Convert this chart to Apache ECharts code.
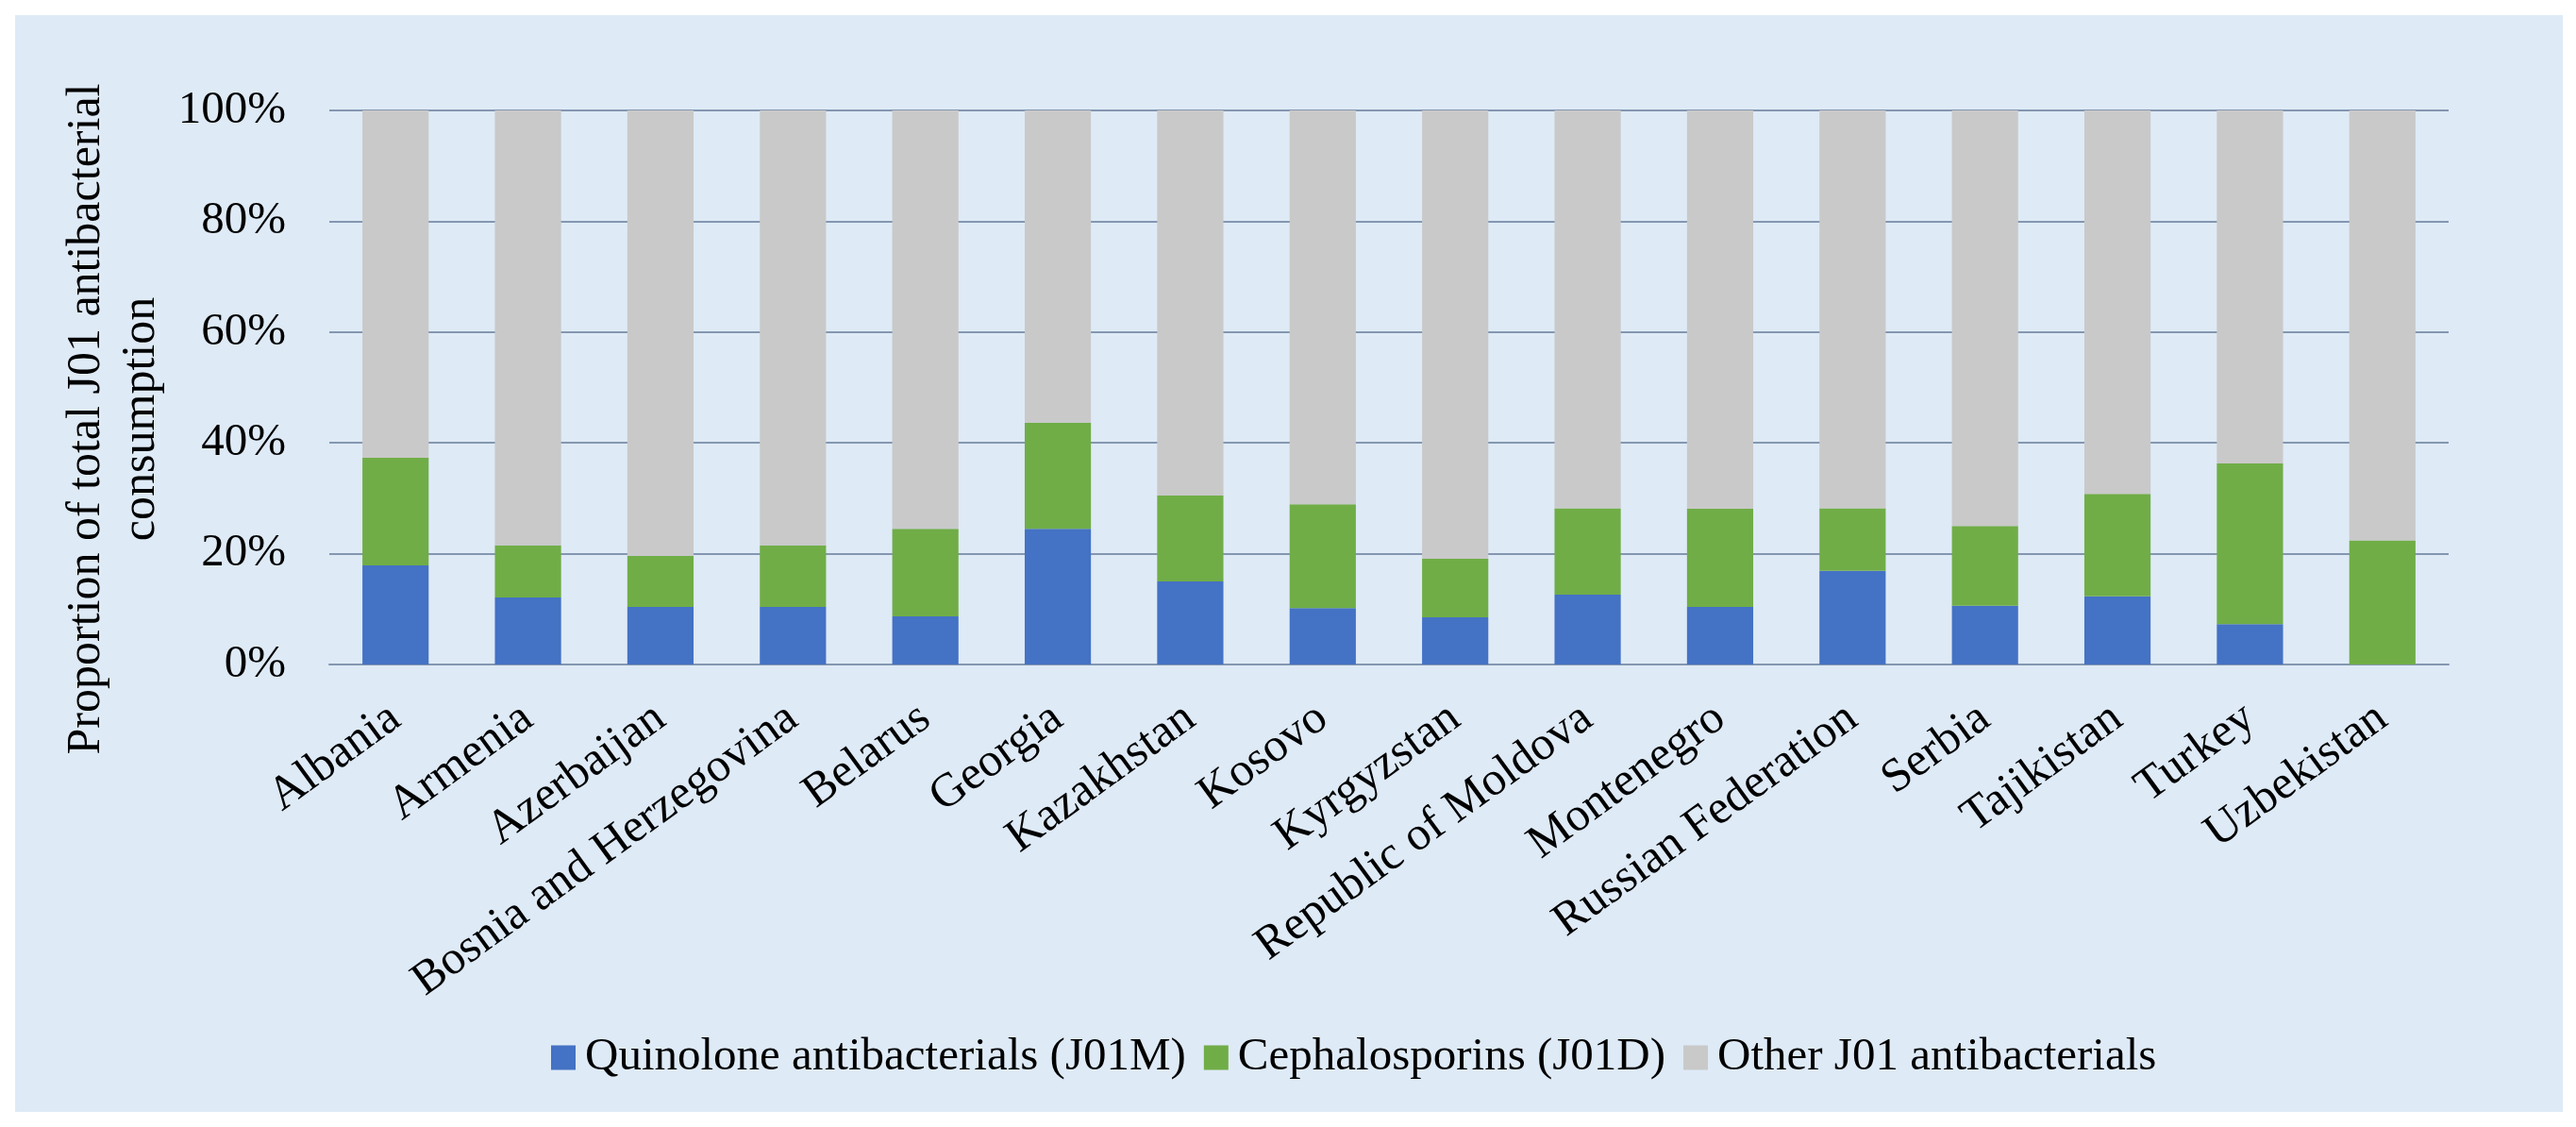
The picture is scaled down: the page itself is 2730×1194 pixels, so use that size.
<!DOCTYPE html>
<html>
<head>
<meta charset="utf-8">
<script src="https://cdn.jsdelivr.net/npm/echarts@6/dist/echarts.min.js"></script>
<style>
  html, body { margin: 0; padding: 0; background: #ffffff; }
  #panel { position: absolute; left: 16px; top: 16px; width: 2700px; height: 1162px; background: #DEEAF6; }
  #chart { position: absolute; left: 0; top: 0; width: 2730px; height: 1194px; }
</style>
</head>
<body>
<div id="panel"></div>
<div id="chart"></div>
<script>
var countries = ['Albania', 'Armenia', 'Azerbaijan', 'Bosnia and Herzegovina', 'Belarus', 'Georgia',
  'Kazakhstan', 'Kosovo', 'Kyrgyzstan', 'Republic of Moldova', 'Montenegro', 'Russian Federation',
  'Serbia', 'Tajikistan', 'Turkey', 'Uzbekistan']
var quinolones = [17.9, 12.1, 10.4, 10.4, 8.7, 24.5, 15.0, 10.2, 8.5, 12.6, 10.4, 16.9, 10.6, 12.3, 7.3, 0]
var cephalosporins = [19.4, 9.4, 9.2, 11.1, 15.8, 19.1, 15.5, 18.7, 10.6, 15.6, 17.7, 11.3, 14.4, 18.5, 29.0, 22.4]
var otherJ01 = [62.7, 78.5, 80.4, 78.5, 75.5, 56.4, 69.5, 71.1, 80.9, 71.8, 71.9, 71.8, 75.0, 69.2, 63.7, 77.6]
var yTicks = [0, 20, 40, 60, 80, 100]

var font = 'Liberation Serif'
var myChart = echarts.init(document.getElementById('chart'))

myChart.setOption({
  animation: false,
  textStyle: { fontFamily: font, color: '#000' },
  grid: { left: 349, right: 135, top: 117, bottom: 490 },
  legend: {
    left: 579,
    top: 1091,
    itemWidth: 26,
    itemHeight: 26,
    itemGap: 19,
    icon: 'rect',
    textStyle: { fontFamily: font, fontSize: 49, color: '#000', padding: [0, 0, 0, 5] },
    data: ['Quinolone antibacterials (J01M)', 'Cephalosporins (J01D)', 'Other J01 antibacterials']
  },
  graphic: [{
    type: 'text',
    x: 121,
    y: 444,
    rotation: Math.PI / 2,
    style: {
      text: 'Proportion of total J01 antibacterial\nconsumption',
      font: '50px "Liberation Serif"',
      fill: '#000',
      align: 'center',
      verticalAlign: 'middle',
      textAlign: 'center',
      textVerticalAlign: 'middle',
      lineHeight: 58
    }
  }],
  xAxis: {
    type: 'category',
    data: countries,
    axisTick: { show: false },
    axisLine: { lineStyle: { color: '#8497B0', width: 2 } },
    axisLabel: { rotate: 36, margin: 52, fontSize: 50, fontFamily: font, color: '#000', interval: 0 }
  },
  yAxis: {
    type: 'value',
    min: 0,
    max: 100,
    interval: 20,
    axisLine: { show: false },
    axisTick: { show: false },
    splitLine: { lineStyle: { color: '#8497B0', width: 2 } },
    axisLabel: {
      margin: 46, fontSize: 49, fontFamily: font, color: '#000',
      formatter: function (v) { return yTicks.indexOf(v) >= 0 ? v + '%' : '' }
    }
  },
  series: [
    {
      name: 'Quinolone antibacterials (J01M)',
      type: 'bar',
      stack: 'total',
      barWidth: '50%',
      itemStyle: { color: '#4472C4' },
      data: quinolones
    },
    {
      name: 'Cephalosporins (J01D)',
      type: 'bar',
      stack: 'total',
      itemStyle: { color: '#70AD47' },
      data: cephalosporins
    },
    {
      name: 'Other J01 antibacterials',
      type: 'bar',
      stack: 'total',
      itemStyle: { color: '#C9C9C9' },
      data: otherJ01
    }
  ]
})
</script>
</body>
</html>
